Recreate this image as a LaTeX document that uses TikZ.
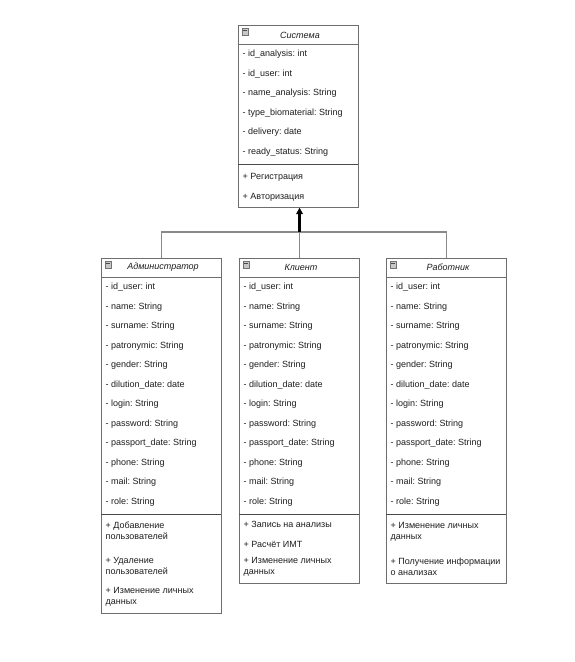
\documentclass[tikz,border=0pt]{standalone}
\usepackage{fontspec}
\setmainfont{Liberation Sans}
\usetikzlibrary{arrows.meta}
\definecolor{bordc}{HTML}{6E6E6E}
\definecolor{sepc}{HTML}{4A4A4A}
\definecolor{connc}{HTML}{8A8A8A}
\definecolor{txtc}{HTML}{1E1E1E}
\tikzset{
  umlbox/.style={draw=bordc, line width=1.1pt, fill=white, anchor=north west, inner sep=0pt},
  sepline/.style={draw=sepc, line width=0.9pt},
  hdrline/.style={draw=bordc, line width=0.9pt},
  attr/.style={font=\fontsize{9}{11}\selectfont, text=txtc, anchor=west, inner sep=0pt, text height=6.5pt, text depth=2pt},
  meth/.style={font=\fontsize{9}{11}\selectfont, text=txtc, anchor=north west, inner sep=0pt, align=left},
  hdr/.style={font=\fontsize{9}{11}\selectfont\itshape, text=txtc, inner sep=0pt},
  icon/.style={draw=black!55, fill=black!22, line width=0.5pt, minimum size=6.5pt, inner sep=0pt, anchor=north west},
  conn/.style={draw=connc, line width=1.4pt},
  gen/.style={draw=black, line width=2.2pt, -{Triangle[length=6.5pt,width=6.5pt]}}
}
\frenchspacing
\begin{document}
\frenchspacing
\begin{tikzpicture}[x=1pt,y=-1pt]
\useasboundingbox (0,0) rectangle (574,662);
\fill[white] (0,0) rectangle (574,662);

% ---------- Система ----------
\node[umlbox, minimum width=120pt, minimum height=181.5pt] (sys) at (238,25) {};
\draw[hdrline] (238,44.5) -- (358,44.5);
\draw[sepline] (238,164.5) -- (358,164.5);
\node[icon] (sysicon) at (241.5,28) {};
\draw[black!70, line width=0.7pt] (243,30) -- (246.5,30);
\node[hdr] (syst) at (300,35) {Система};
\foreach \t [count=\i] in {- id\_analysis: int,- id\_user: int,- name\_analysis: String,- type\_biomaterial: String,- delivery: date,- ready\_status: String}
  \node[attr] (sysa\i) at (242.5,{44.5+19.5*(\i-0.5)}) {\t};
\node[attr] (sysm1) at (242.5,177.3) {+ Регистрация};
\node[attr] (sysm2) at (242.5,196.8) {+ Авторизация};

% ---------- Администратор ----------
\node[umlbox, minimum width=120pt, minimum height=355pt] (adm) at (101,258) {};
\draw[hdrline] (101,277.5) -- (221,277.5);
\draw[sepline] (101,514.5) -- (221,514.5);
\node[icon] (admicon) at (104.5,261) {};
\draw[black!70, line width=0.7pt] (106,263) -- (109.5,263);
\node[hdr] (admt) at (163,267.5) {Администратор};
\foreach \t [count=\i] in {- id\_user: int,- name: String,- surname: String,- patronymic: String,- gender: String,- dilution\_date: date,- login: String,- password: String,- passport\_date: String,- phone: String,- mail: String,- role: String}
  \node[attr] (adma\i) at (105.5,{277.5+19.5*(\i-0.5)}) {\t};
\node[meth] (admm1) at (105.5,522) {+ Добавление\\пользователей};
\node[meth] (admm2) at (105.5,557.5) {+ Удаление\\пользователей};
\node[meth] (admm3) at (105.5,587.5) {+ Изменение личных\\данных};

% ---------- Клиент ----------
\node[umlbox, minimum width=120pt, minimum height=325pt] (cli) at (239,258) {};
\draw[hdrline] (239,277.5) -- (359,277.5);
\draw[sepline] (239,514.5) -- (359,514.5);
\node[icon] (cliicon) at (242.5,261) {};
\draw[black!70, line width=0.7pt] (244,263) -- (247.5,263);
\node[hdr] (clit) at (301,267.5) {Клиент};
\foreach \t [count=\i] in {- id\_user: int,- name: String,- surname: String,- patronymic: String,- gender: String,- dilution\_date: date,- login: String,- password: String,- passport\_date: String,- phone: String,- mail: String,- role: String}
  \node[attr] (clia\i) at (243.5,{277.5+19.5*(\i-0.5)}) {\t};
\node[attr] (clim1) at (243.5,525.5) {+ Запись на анализы};
\node[attr] (clim2) at (243.5,545) {+ Расчёт ИМТ};
\node[meth] (clim3) at (243.5,557.5) {+ Изменение личных\\данных};

% ---------- Работник ----------
\node[umlbox, minimum width=120pt, minimum height=325pt] (wrk) at (386,258) {};
\draw[hdrline] (386,277.5) -- (506,277.5);
\draw[sepline] (386,514.5) -- (506,514.5);
\node[icon] (wrkicon) at (389.5,261) {};
\draw[black!70, line width=0.7pt] (391,263) -- (394.5,263);
\node[hdr] (wrkt) at (448,267.5) {Работник};
\foreach \t [count=\i] in {- id\_user: int,- name: String,- surname: String,- patronymic: String,- gender: String,- dilution\_date: date,- login: String,- password: String,- passport\_date: String,- phone: String,- mail: String,- role: String}
  \node[attr] (wrka\i) at (390.5,{277.5+19.5*(\i-0.5)}) {\t};
\node[meth] (wrkm1) at (390.5,522) {+ Изменение личных\\данных};
\node[meth] (wrkm2) at (390.5,557.5) {+ Получение информации\\о анализах};

% ---------- connectors ----------
\coordinate (junc) at (cli.north |- 0,232);
\draw[conn] (adm.north) |- (junc) -| (wrk.north);
\draw[conn] (cli.north) -- (junc);
\draw[gen] (junc) -- (junc |- sys.south);
\end{tikzpicture}
\end{document}
